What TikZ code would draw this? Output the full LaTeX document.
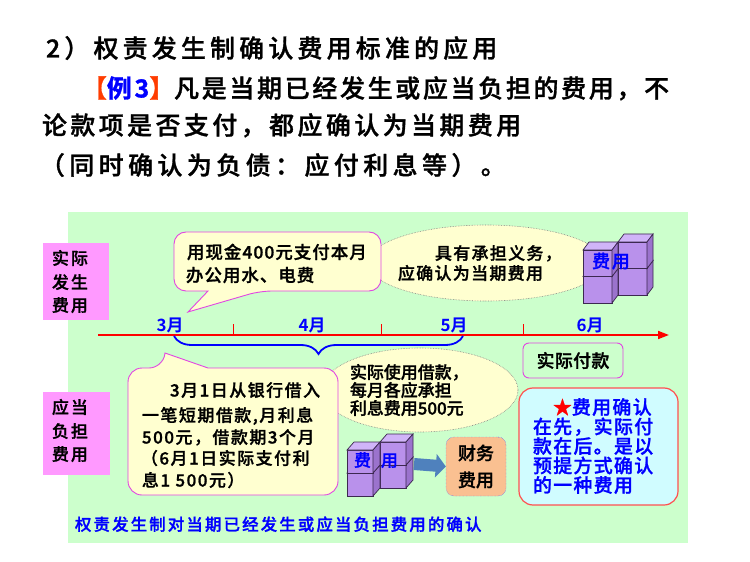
\documentclass[tikz,border=0pt]{standalone}
\usepackage{fontspec}
\setmainfont{Noto Sans CJK SC}[UprightFont=* Medium,BoldFont=* Bold]
\usetikzlibrary{arrows.meta,decorations.pathreplacing,shapes.geometric}
\definecolor{bggreen}{RGB}{204,255,204}
\definecolor{pinkbox}{RGB}{255,153,255}
\definecolor{calloutmag}{RGB}{225,70,225}
\definecolor{paleyellow}{RGB}{255,255,208}
\definecolor{lightcyan}{RGB}{208,252,255}
\definecolor{boxred}{RGB}{255,80,80}
\definecolor{peach}{RGB}{250,192,145}
\definecolor{cubefront}{RGB}{185,145,235}
\definecolor{cubetop}{RGB}{208,180,248}
\definecolor{cubeside}{RGB}{155,115,205}
\definecolor{cubeedge}{RGB}{60,40,80}
\definecolor{arrowblue}{RGB}{79,129,189}
\definecolor{bracketred}{RGB}{255,60,0}
\newcommand\fz[2]{\fontsize{#1}{#1}\selectfont\addfontfeature{LetterSpace=#2,FakeBold=1.2}}
% #1 x, #2 y (bottom-left of front face), #3 w, #4 h, #5 dx, #6 dy
\newcommand\mycube[6]{%
  \filldraw[fill=cubefront,draw=cubeedge,line width=0.7bp] (#1,#2) rectangle (#1+#3,#2-#4);
  \filldraw[fill=cubetop,draw=cubeedge,line width=0.7bp] (#1,#2-#4) -- (#1+#5,#2-#4-#6) -- (#1+#3+#5,#2-#4-#6) -- (#1+#3,#2-#4) -- cycle;
  \filldraw[fill=cubeside,draw=cubeedge,line width=0.7bp] (#1+#3,#2) -- (#1+#3+#5,#2-#6) -- (#1+#3+#5,#2-#4-#6) -- (#1+#3,#2-#4) -- cycle;
}
\begin{document}
\begin{tikzpicture}[x=1bp,y=-1bp,
  txt/.style={anchor=base west,inner sep=0,outer sep=0},
  ctxt/.style={anchor=base,inner sep=0,outer sep=0},
  pinkstyle/.style={fill=pinkbox,inner sep=0},
  month/.style={anchor=base,inner sep=0,text=blue,font=\bfseries\fontsize{17}{17}\selectfont},
  callout/.style={draw=calloutmag,fill=paleyellow,line width=0.9bp},
  ellnode/.style={ellipse,draw=gray,densely dotted,fill=paleyellow,line width=0.6bp,inner sep=0},
  tline/.style={draw=red,line width=1.8bp,-{Triangle[length=11bp,width=8bp]}},
  bracestyle/.style={draw=blue,line width=1.8bp,decorate,decoration={brace,amplitude=18bp}},
  blockarrow/.style={draw=arrowblue,line width=12bp,-{Triangle[length=10bp,width=23bp]}}
]
\useasboundingbox[fill=white] (0,0) rectangle (750,562);

% title
\node[txt] (t1) at (46,57.5) {\fz{25}{17}2）权责发生制确认费用标准的应用};
\node[txt] (t2) at (82,97.5) {\fz{25}{11}{\color{bracketred}【}{\color{blue}\bfseries 例3}{\color{bracketred}】}凡是当期已经发生或应当负担的费用，不};
\node[txt] (t3) at (42,134.5) {\fz{25}{14}论款项是否支付，都应确认为当期费用};
\node[txt] (t4) at (40,174.5) {\fz{25}{18}（同时确认为负债：应付利息等）。};

% panel
\fill[bggreen] (68,212) rectangle (688,543);

% side labels
\node[pinkstyle,minimum width=66bp,minimum height=77bp] (p1) at (76,281.5) {};
\node[pinkstyle,minimum width=67bp,minimum height=83bp] (p2) at (76.5,433.5) {};
\node[txt] (p1a) at (52,264.5) {\fz{17}{12}实际};
\node[txt] (p1b) at (52,288.5) {\fz{17}{12}发生};
\node[txt] (p1c) at (52,311.5) {\fz{17}{12}费用};
\node[txt] (p2a) at (52,413.5) {\fz{17}{12}应当};
\node[txt] (p2b) at (52,437.5) {\fz{17}{12}负担};
\node[txt] (p2c) at (52,460.5) {\fz{17}{12}费用};

% timeline
\coordinate (ts) at (98,335);
\coordinate (te) at (669,335);
\draw[tline] (ts) -- (te);
\foreach \x in {233,381,523} \draw[red,line width=0.8bp] (\x,324) -- (\x,335);
\node[month] (m3) at (170,331.5) {3月};
\node[month] (m4) at (312,331.5) {4月};
\node[month] (m5) at (454,331.5) {5月};
\node[month] (m6) at (590,331.5) {6月};

% upper ellipse and callout
\node[ellnode,minimum width=236bp,minimum height=76bp] (e1) at (486,263) {};
\draw[callout] (208,291) [rounded corners=12bp] -- (174,291) -- (174,232) -- (381,232) -- (381,291) -- (260,291) [sharp corners] -- (188,312) -- cycle;
\node[txt] (c1a) at (187,258.6) {\fz{17.5}{6}用现金400元支付本月};
\node[txt] (c1b) at (186,281.6) {\fz{17.5}{6}办公用水、电费};
\node[txt] (e1a) at (435,259.5) {\fz{17}{8}具有承担义务，};
\node[txt] (e1b) at (398,279.5) {\fz{17}{8}应确认为当期费用};

% upper cubes
\mycube{618}{295}{29}{26.5}{6}{8}
\mycube{618}{268.5}{29}{26.5}{6}{8}
\mycube{583}{303}{29}{26.5}{6}{8}
\mycube{583}{276.5}{29}{26.5}{6}{8}
\node[ctxt,text=blue] (cu) at (611,267.8) {\fz{18}{10}费用};

% lower ellipse
\node[ellnode,minimum width=196bp,minimum height=84bp] (e2) at (420,390) {};

% brace
\coordinate (br1) at (463,336);
\coordinate (br0) at (174,336);
\draw[bracestyle] (br1) -- (br0);

% lower callout
\draw[callout] (208,368) [rounded corners=14bp] -- (338,368) -- (338,495) -- (128,495) -- (128,368) -- (163,368) [sharp corners] -- (165,353) -- cycle;
\node[txt] (c2a) at (170,396.5) {\fz{17}{9}3月1日从银行借入};
\node[txt] (c2b) at (142,421.5) {\fz{17}{9}一笔短期借款,月利息};
\node[txt] (c2c) at (142,443.5) {\fz{17}{9}500元，借款期3个月};
\node[txt] (c2d) at (141,464.5) {\fz{17}{9}（6月1日实际支付利};
\node[txt] (c2e) at (142,486.5) {\fz{17}{9}息1 500元）};

\node[txt] (e2a) at (350,378.5) {\fz{17}{0}实际使用借款，};
\node[txt] (e2b) at (350,396.5) {\fz{17}{0}每月各应承担};
\node[txt] (e2c) at (350,414.5) {\fz{17}{0}利息费用500元};

% payment box
\node[draw=calloutmag,rounded corners=6bp,minimum width=100bp,minimum height=35bp,line width=0.9bp,inner sep=0] (pay) at (573,360.5) {\fz{18}{2}实际付款};

% note box
\node[draw=boxred,fill=lightcyan,rounded corners=14bp,line width=1.2bp,minimum width=159bp,minimum height=117bp] (note) at (598.5,446.5) {};
\node[txt,text=blue] (n1) at (553,414.2) {\fz{19}{7}{\color{red}★}费用确认};
\node[txt,text=blue] (n2) at (533,433.7) {\fz{19}{7}在先，实际付};
\node[txt,text=blue] (n3) at (533,453.2) {\fz{19}{7}款在后。是以};
\node[txt,text=blue] (n4) at (533,472.7) {\fz{19}{7}预提方式确认};
\node[txt,text=blue] (n5) at (533,492.2) {\fz{19}{7}的一种费用};

% lower cubes
\mycube{380}{488}{26}{23}{7}{8}
\mycube{380}{465}{26}{23}{7}{8}
\mycube{347}{496}{26}{23}{7}{8}
\mycube{347}{473}{26}{23}{7}{8}
\node[ctxt,text=blue] (cl) at (376,466.5) {\fz{17}{0}费\hspace{10bp}用};

% finance box and arrow
\node[draw=blue!70,densely dotted,fill=peach,rounded corners=8bp,minimum width=60bp,minimum height=59bp,align=center,inner sep=0,font={\fontsize{18}{27}\selectfont\addfontfeature{FakeBold=1.2}}] (cw) at (476,466.5) {财务\\费用};
\coordinate (cubeR) at (414,464);
\draw[blockarrow] (cubeR) -- (cw.west);

% bottom line
\node[txt,text=blue] (bt) at (75,530.5) {\fz{16.5}{13}权责发生制对当期已经发生或应当负担费用的确认};
\end{tikzpicture}
\end{document}
